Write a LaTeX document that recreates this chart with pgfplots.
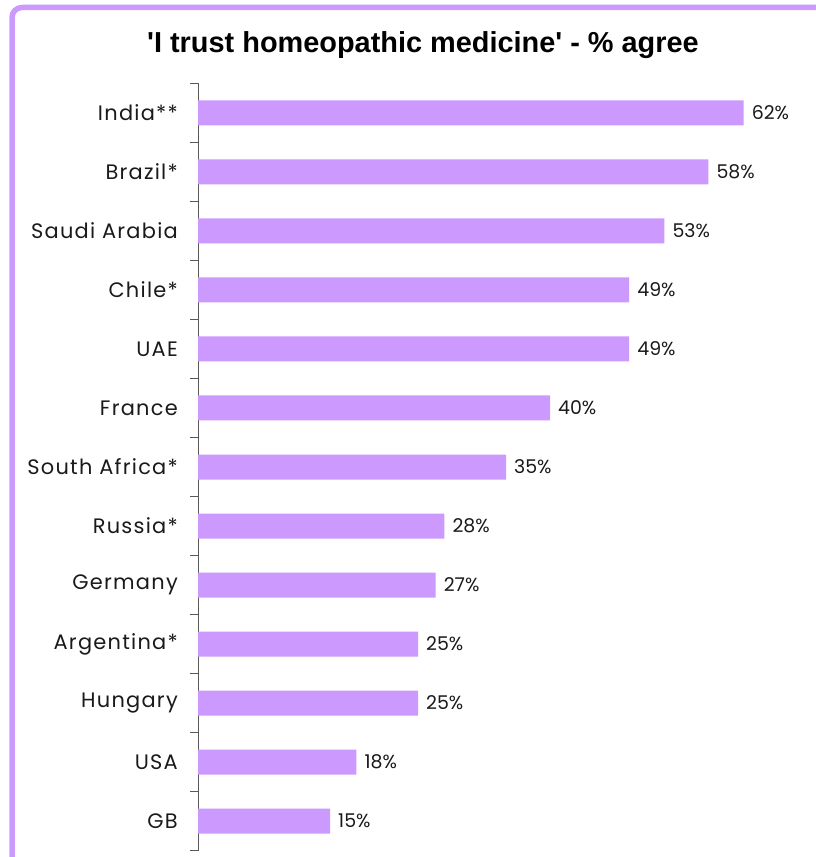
\documentclass[border=0pt]{standalone}
\usepackage{pgfplots}
\pgfplotsset{compat=1.18}
\usepackage{fontspec}
\setmainfont{Poppins}
\newfontfamily\catfont{Poppins}[LetterSpace=6]
\newfontfamily\titlefont{Liberation Sans}
\definecolor{barpurple}{HTML}{CC99FF}
\definecolor{txt}{HTML}{1A1A1A}

% share agreeing, top row first
\pgfplotstableread{
idx value
0  62
1  58
2  53
3  49
4  49
5  40
6  35
7  28
8  27
9  25
10 25
11 18
12 15
}\trustdata

\begin{document}
\begin{tikzpicture}[x=1bp,y=1bp]
\useasboundingbox (0,0) rectangle (816,857);
% frame
\draw[barpurple, line width=5.5bp, rounded corners=10bp] (12,-30) -- (12,849.5) -- (860,849.5);
\node[font=\titlefont\bfseries\fontsize{29}{33}\selectfont, text=black, anchor=base]
  at (423,804) {\textquotesingle I trust homeopathic medicine\textquotesingle\ - \% agree};
\begin{axis}[
    at={(198bp,6.5bp)}, anchor=south west,
    scale only axis, width=616bp, height=767bp,
    xbar, bar width=25bp,
    xmin=0, xmax=70,
    ymin=-0.5, ymax=12.5, y dir=reverse,
    axis x line=none,
    axis y line=left,
    y axis line style={-, black!65, line width=1bp},
    ytick={0,...,12},
    yticklabels={India**, Brazil*, Saudi Arabia, Chile*, UAE, France, South Africa*,
                 Russia*, Germany, Argentina*, Hungary, USA, GB},
    minor ytick={-0.5,0.5,...,12.5},
    major tick length=0pt, minor tick length=8bp,
    tick align=outside, ytick pos=left,
    every tick/.style={black!65, line width=1bp},
    yticklabel style={font=\catfont\fontsize{21}{24}\selectfont, text=txt, inner sep=0pt, xshift=-20bp},
    point meta=x,
    /pgf/number format/assume math mode=true,
    nodes near coords={\pgfmathprintnumber{\pgfplotspointmeta}\%},
    nodes near coords style={font=\fontsize{19}{22}\selectfont, text=txt, anchor=west,
                             inner sep=0pt, xshift=8bp},
    clip=false,
]
\addplot[draw=none, fill=barpurple] table[x=value, y=idx] {\trustdata};
\end{axis}
\end{tikzpicture}
\end{document}
